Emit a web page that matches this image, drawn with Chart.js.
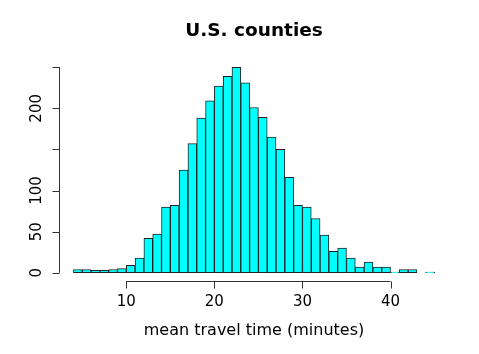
<!DOCTYPE html>
<html>
<head>
<meta charset="utf-8">
<script src="https://cdn.jsdelivr.net/npm/chart.js@4/dist/chart.umd.min.js"></script>
<style>
  html, body { margin: 0; padding: 0; background: #fff; }
  #wrap { width: 479px; height: 354px; }
</style>
</head>
<body>
<div id="wrap"><canvas id="hist" width="479" height="354"></canvas></div>
<script>
// histogram of mean travel time, 1-minute bins from 4 to 45
const binStarts = [4, 5, 6, 7, 8, 9, 10, 11, 12, 13, 14, 15, 16, 17, 18, 19, 20, 21, 22, 23, 24,
                   25, 26, 27, 28, 29, 30, 31, 32, 33, 34, 35, 36, 37, 38, 39, 40, 41, 42, 43, 44];
const counts = [4, 4, 3, 3, 4, 5, 9, 18, 42, 47, 80, 82, 125, 157, 188, 209, 227, 239, 250, 231, 201,
                189, 165, 150, 116, 82, 80, 66, 46, 26, 30, 18, 7, 13, 7, 7, 1, 4, 4, 0, 1];
const xTicks = [10, 20, 30, 40];
const yTicks = [0, 50, 100, 150, 200, 250];
const yLabels = ['0', '50', '100', '', '200', ''];

const title = 'U.S. counties';
const xTitle = 'mean travel time (minutes)';

// R-style axes: drawn from the scales, tick marks outward
const rAxes = {
    id: 'rAxes',
    afterDraw(chart) {
        const ctx = chart.ctx;
        const xs = chart.scales.x, ys = chart.scales.y;
        const area = chart.chartArea;
        const font = '15px "DejaVu Sans", sans-serif';
        ctx.save();
        ctx.strokeStyle = '#333';
        ctx.fillStyle = '#000';
        ctx.lineWidth = 1;

        // x axis
        const yb = Math.round(area.bottom) + 0.5;
        ctx.beginPath();
        ctx.moveTo(xs.getPixelForValue(xTicks[0]), yb);
        ctx.lineTo(xs.getPixelForValue(xTicks[xTicks.length - 1]), yb);
        xTicks.forEach(t => {
            const px = Math.round(xs.getPixelForValue(t)) + 0.5;
            ctx.moveTo(px, yb);
            ctx.lineTo(px, yb + 7);
        });
        ctx.stroke();
        ctx.font = font;
        ctx.textAlign = 'center';
        ctx.textBaseline = 'middle';
        xTicks.forEach(t => ctx.fillText(String(t), xs.getPixelForValue(t), 302));

        // y axis
        const xl = Math.round(area.left) + 0.5;
        ctx.beginPath();
        ctx.moveTo(xl, ys.getPixelForValue(yTicks[0]));
        ctx.lineTo(xl, ys.getPixelForValue(yTicks[yTicks.length - 1]));
        yTicks.forEach(t => {
            const py = Math.round(ys.getPixelForValue(t)) + 0.5;
            ctx.moveTo(xl, py);
            ctx.lineTo(xl - 7, py);
        });
        ctx.stroke();
        yTicks.forEach((t, i) => {
            if (!yLabels[i]) return;
            ctx.save();
            ctx.translate(37, ys.getPixelForValue(t));
            ctx.rotate(-Math.PI / 2);
            ctx.fillText(yLabels[i], 0, 0);
            ctx.restore();
        });

        // titles
        ctx.font = 'bold 18.5px "DejaVu Sans", sans-serif';
        ctx.fillText(title, (area.left + area.right) / 2, 31);
        ctx.font = '16px "DejaVu Sans", sans-serif';
        ctx.fillText(xTitle, (area.left + area.right) / 2, 331);
        ctx.restore();
    }
};

new Chart(document.getElementById('hist'), {
    type: 'bar',
    data: {
        datasets: [{
            data: binStarts.map((b, i) => ({ x: b + 0.5, y: counts[i] })),
            backgroundColor: '#00ffff',
            borderColor: '#222',
            borderWidth: 1,
            borderSkipped: false,
            barPercentage: 1,
            categoryPercentage: 1
        }]
    },
    options: {
        responsive: false,
        animation: false,
        events: [],
        layout: { padding: { left: 59, right: 30, top: 59, bottom: 73 } },
        plugins: { legend: { display: false }, tooltip: { enabled: false }, title: { display: false } },
        scales: {
            x: { type: 'linear', min: 2.36, max: 46.64, display: false, offset: false },
            y: { min: -10, max: 260, display: false }
        }
    },
    plugins: [rAxes]
});
</script>
</body>
</html>
